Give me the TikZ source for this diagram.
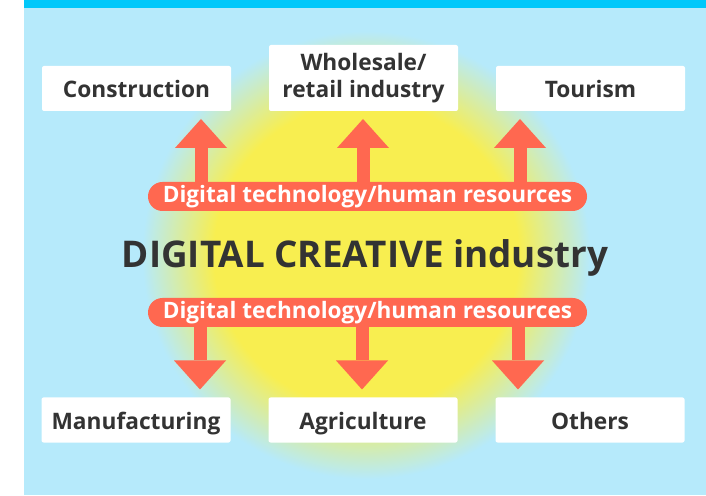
\documentclass[tikz,border=0pt]{standalone}
\usepackage{fontspec}
\setmainfont{Open Sans}
\usetikzlibrary{positioning,arrows.meta}
\definecolor{myblue}{RGB}{182,234,251}
\definecolor{mycyan}{RGB}{0,200,250}
\definecolor{myyellow}{RGB}{248,238,80}
\definecolor{myred}{RGB}{255,104,80}
\definecolor{mygray}{RGB}{51,51,51}
\pgfdeclareradialshading{glow}{\pgfpoint{0bp}{0bp}}{%
  color(0bp)=(myyellow); color(17bp)=(myyellow); color(25bp)=(myblue); color(50bp)=(myblue)}

\begin{document}
\begin{tikzpicture}[x=1pt,y=1pt,node distance=38pt,outer sep=0pt,
box/.style={
  fill=white,
  rounded corners=2pt,
  minimum width=189pt,
  minimum height=45pt,
  inner sep=0pt,
  align=center,
  text=mygray,
  text height=18pt,
  text depth=0pt,
  font=\fontsize{22.7}{27}\selectfont\bfseries},
pill/.style={
  fill=myred,
  rounded corners=14.5pt,
  minimum width=439pt,
  minimum height=29pt,
  inner sep=0pt,
  text=white,
  font=\fontsize{22.6}{24}\selectfont\bfseries},
bigarrow/.style={
  draw=myred,
  line width=13pt,
  -{Triangle[width=52pt,length=29pt,line width=0pt]},
  shorten >=8pt},
]
\useasboundingbox (0,0) rectangle (706,495);
\fill[myblue] (24,0) rectangle (706,495);
\fill[mycyan] (24,487) rectangle (706,495);
\shade[shading=glow] (366,240) circle (224);
% the two bands and the title
\node[anchor=base,text=mygray,font=\fontsize{36.8}{40}\selectfont\bfseries] (title) at (365,227) {DIGITAL CREATIVE industry};
\node[pill] (digup) at (367.5,298.5) {Digital technology/human resources};
\node[pill,below=87pt of digup] (digdown) {Digital technology/human resources};
% top row
\node[box] (con) at (136.5,406.5) {Construction};
\node[box,text height=,text depth=,minimum height=66pt,right=of con.south east,anchor=south west] (who) {Wholesale/\\retail industry};
\node[box,right=of who.south east,anchor=south west] (tou) {Tourism};
% bottom row
\node[box] (man) at (136,75) {Manufacturing};
\node[box,right=of man] (agr) {Agriculture};
\node[box,right=of agr] (oth) {Others};
\coordinate (a1) at (201,0);
\coordinate (a2) at (363,0);
\coordinate (a3) at (520,0);
\coordinate (b1) at (200,0);
\coordinate (b2) at (362,0);
\coordinate (b3) at (518,0);
\draw[bigarrow] (digup.north -| a1) -- (con.south -| a1);
\draw[bigarrow] (digup.north -| a2) -- (who.south -| a2);
\draw[bigarrow] (digup.north -| a3) -- (tou.south -| a3);
\draw[bigarrow] (digdown.south -| b1) -- (man.north -| b1);
\draw[bigarrow] (digdown.south -| b2) -- (agr.north -| b2);
\draw[bigarrow] (digdown.south -| b3) -- (oth.north -| b3);
\end{tikzpicture}
\end{document}
